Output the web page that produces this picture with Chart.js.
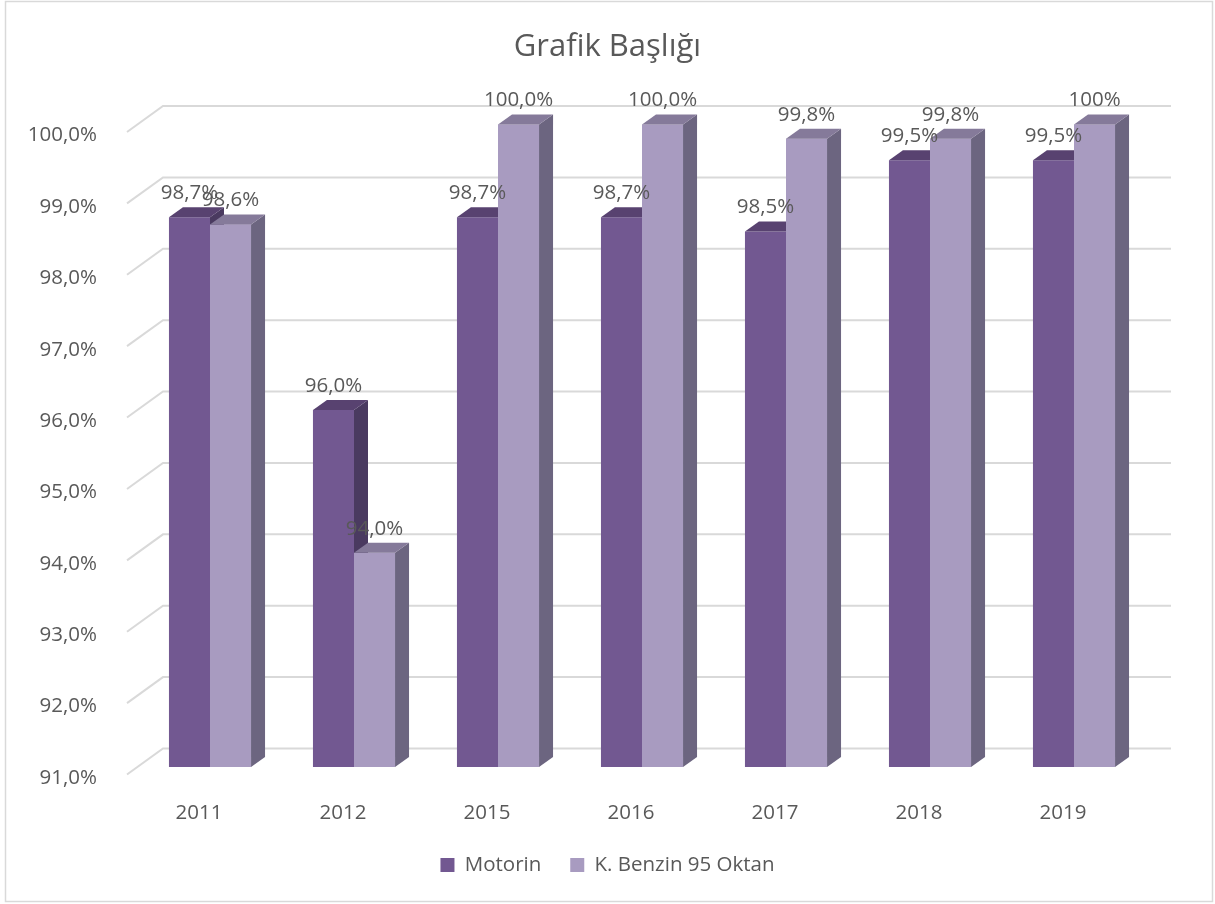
<!DOCTYPE html>
<html lang="tr">
<head>
  <meta charset="UTF-8">
  <title>Grafik Başlığı</title>
  <script src="https://cdn.jsdelivr.net/npm/chart.js"></script>
  <style>
    body { margin: 0; background: #ffffff; }
    canvas { display: block; }
  </style>
</head>
<body>
  <canvas id="myChart" width="1215" height="904"></canvas>

  <script>
    // Veriler
    const years = ['2011', '2012', '2015', '2016', '2017', '2018', '2019'];
    const motorin = [98.7, 96.0, 98.7, 98.7, 98.5, 99.5, 99.5];
    const benzin = [98.6, 94.0, 100.0, 100.0, 99.8, 99.8, 100.0];
    const motorinLabels = ['98,7%', '96,0%', '98,7%', '98,7%', '98,5%', '99,5%', '99,5%'];
    const benzinLabels = ['98,6%', '94,0%', '100,0%', '100,0%', '99,8%', '99,8%', '100%'];
    const yMin = 91;
    const yMax = 100;

    // Renkler (ön, üst, yan)
    const darkFaces = ['#725891', '#584270', '#4a3a60'];
    const lightFaces = ['#a89bc0', '#857a9a', '#6c6580'];
    const textColor = '#595959';
    const gridColor = '#d9d9d9';

    // 3B derinlik
    const dx = 14, dy = 10;

    Chart.defaults.font.family = "'Open Sans', sans-serif";
    Chart.defaults.color = textColor;

    function poly(ctx, pts, color) {
      ctx.beginPath();
      ctx.moveTo(pts[0][0], pts[0][1]);
      for (let i = 1; i < pts.length; i++) ctx.lineTo(pts[i][0], pts[i][1]);
      ctx.closePath();
      ctx.fillStyle = color;
      ctx.fill();
    }

    function drawBox(ctx, el, bottom, faces, front) {
      const left = el.x - el.width / 2;
      const right = el.x + el.width / 2;
      const top = el.y;
      if (front) {
        ctx.fillStyle = faces[0];
        ctx.fillRect(left, top, right - left, bottom - top);
      }
      poly(ctx, [[right, top], [right + dx, top - dy], [right + dx, bottom - dy], [right, bottom]], faces[2]);
      poly(ctx, [[left, top], [left + dx, top - dy], [right + dx, top - dy], [right, top]], faces[1]);
    }

    const frame3d = {
      id: 'frame3d',
      beforeDraw(chart) {
        const ctx = chart.ctx;
        ctx.save();
        ctx.fillStyle = '#ffffff';
        ctx.fillRect(0, 0, chart.width, chart.height);
        ctx.strokeStyle = gridColor;
        ctx.lineWidth = 1.5;
        ctx.strokeRect(5.5, 1.5, chart.width - 8, chart.height - 4);
        ctx.restore();
      },
      beforeDatasetsDraw(chart) {
        // arka duvar ve sol duvar çizgileri
        const ctx = chart.ctx;
        const y = chart.scales.y;
        const area = chart.chartArea;
        ctx.save();
        ctx.strokeStyle = gridColor;
        ctx.lineWidth = 2;
        y.ticks.forEach(t => {
          const yb = y.getPixelForValue(t.value) - 18.5;
          ctx.beginPath();
          ctx.moveTo(area.left - 11, yb + 26);
          ctx.lineTo(area.left + 25, yb);
          ctx.lineTo(area.right + 25, yb);
          ctx.stroke();
        });
        ctx.restore();
      },
      afterDatasetsDraw(chart) {
        const ctx = chart.ctx;
        const bottom = chart.scales.y.getPixelForValue(yMin);
        const m0 = chart.getDatasetMeta(0).data;
        const m1 = chart.getDatasetMeta(1).data;
        ctx.save();
        for (let i = 0; i < years.length; i++) {
          drawBox(ctx, m0[i], bottom, darkFaces, false);
          drawBox(ctx, m1[i], bottom, lightFaces, true);
        }
        // veri etiketleri
        ctx.fillStyle = textColor;
        ctx.font = "20.5px 'Open Sans', sans-serif";
        ctx.textAlign = 'center';
        ctx.textBaseline = 'middle';
        for (let i = 0; i < years.length; i++) {
          ctx.fillText(motorinLabels[i], m0[i].x, m0[i].y - 24);
          ctx.fillText(benzinLabels[i], m1[i].x, m1[i].y - 24);
        }
        ctx.restore();
      }
    };

    const ctx = document.getElementById('myChart').getContext('2d');
    const myChart = new Chart(ctx, {
      type: 'bar',
      data: {
        labels: years,
        datasets: [{
          label: 'Motorin',
          data: motorin,
          backgroundColor: darkFaces[0],
          borderWidth: 0
        }, {
          label: 'K. Benzin 95 Oktan',
          data: benzin,
          backgroundColor: lightFaces[0],
          borderWidth: 0
        }]
      },
      options: {
        responsive: false,
        animation: false,
        events: [],
        categoryPercentage: 0.57,
        barPercentage: 1,
        layout: { padding: { top: 0, left: 0, right: 0, bottom: 18.75 } },
        plugins: {
          title: {
            display: true,
            text: 'Grafik Başlığı',
            color: textColor,
            font: { size: 31, weight: 'normal' },
            padding: { top: 29, bottom: 58.3 }
          },
          legend: {
            position: 'bottom',
            labels: {
              boxWidth: 14,
              boxHeight: 14,
              padding: 29,
              color: textColor,
              font: { size: 20.5 }
            }
          },
          tooltip: { enabled: false }
        },
        scales: {
          x: {
            grid: { display: false },
            border: { display: false },
            ticks: { padding: 26, labelOffset: -11, font: { size: 20.5 } },
            afterFit(s) { s.height = 58.75; }
          },
          y: {
            min: yMin,
            max: yMax,
            grid: { display: false },
            border: { display: false },
            ticks: {
              stepSize: 1,
              padding: 33,
              labelOffset: 11,
              font: { size: 20.5 },
              callback: v => v.toFixed(1).replace('.', ',') + '%'
            },
            afterFit(s) { s.width = 138; }
          },
          yr: {
            position: 'right',
            grid: { display: false },
            border: { display: false },
            ticks: { display: false },
            afterFit(s) { s.width = 69; }
          }
        }
      },
      plugins: [frame3d]
    });
  </script>
</body>
</html>
